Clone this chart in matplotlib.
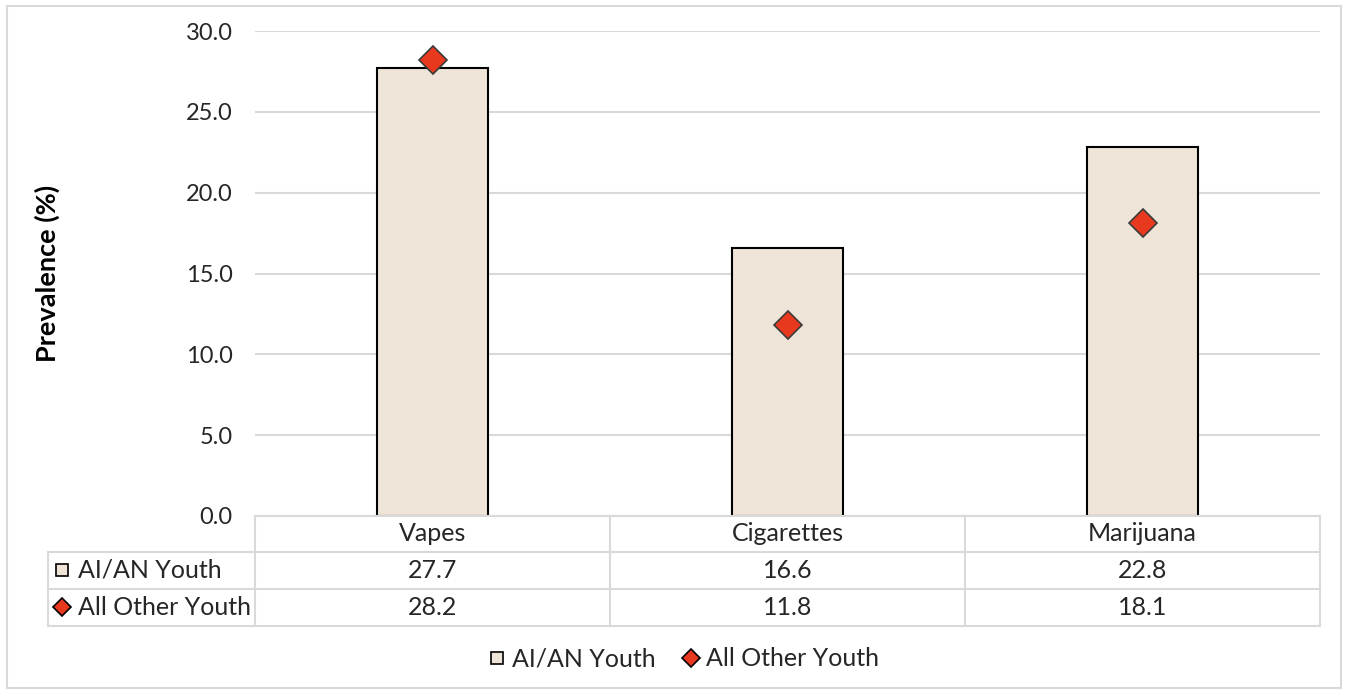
import matplotlib.pyplot as plt
from matplotlib.lines import Line2D
from matplotlib.patches import Rectangle
import matplotlib.transforms as mtransforms

categories = ['Vapes', 'Cigarettes', 'Marijuana']
aian_youth = [27.7, 16.6, 22.8]
other_youth = [28.2, 11.8, 18.1]
series_names = ['AI/AN Youth', 'All Other Youth']
yticks = [0, 5, 10, 15, 20, 25, 30]

plt.rcParams['font.family'] = ['Lato', 'DejaVu Sans']
bar_col = '#EEE5D8'
dia_col = '#E8391F'
grid_col = '#D9D9D9'
txt_col = '#262626'
fs = 18

fig = plt.figure(figsize=(13.48, 6.92), dpi=100)
fig.patches.append(Rectangle((7/1348, 4/692), 1334/1348, 682/692, transform=fig.transFigure,
                             fill=False, edgecolor=grid_col, lw=1.5))
ax = fig.add_axes([255/1348, 1-516/692, 1065/1348, 485/692])

x = range(len(categories))
ax.bar(x, aian_youth, width=0.31, color=bar_col, edgecolor='black', lw=1.5, zorder=2)
ax.plot(x, other_youth, ls='none', marker='D', ms=14, mfc=dia_col, mec='#3a3a3a', mew=1.2, zorder=3)

ax.set_xlim(-0.5, 2.5)
ax.set_ylim(0, 30)
ax.set_yticks(yticks)
ax.set_yticklabels([f'{v:.1f}' for v in yticks], fontsize=17, color=txt_col)
ax.tick_params(axis='y', length=0, pad=16)
ax.set_xticks([])
ax.grid(axis='y', color=grid_col, lw=1.5, zorder=0)
for s in ax.spines.values():
    s.set_visible(False)
ax.set_ylabel('Prevalence (%)', fontsize=19.5, fontweight='bold', color='black')
ax.yaxis.set_label_coords(-0.183, 0.5)

# data table under the axis
trans = mtransforms.blended_transform_factory(ax.transData, ax.transAxes)
rows_y = [0, -0.0742, -0.1505, -0.2268]
left = -0.1944
lkw = dict(color=grid_col, lw=1.5, clip_on=False)
ax.add_line(Line2D([0, 1], [0, 0], transform=ax.transAxes, **lkw))
for yy in rows_y[1:]:
    ax.add_line(Line2D([left, 1], [yy, yy], transform=ax.transAxes, **lkw))
ax.add_line(Line2D([left, left], [rows_y[1], rows_y[3]], transform=ax.transAxes, **lkw))
for xb in [-0.5, 0.5, 1.5, 2.5]:
    ax.add_line(Line2D([xb, xb], [0, rows_y[3]], transform=trans, **lkw))

tkw = dict(fontsize=fs, color=txt_col, va='center', clip_on=False)
for i, cat in enumerate(categories):
    ax.text(i, (rows_y[0] + rows_y[1]) / 2, cat, transform=trans, ha='center', **tkw)
    ax.text(i, (rows_y[1] + rows_y[2]) / 2, f'{aian_youth[i]:.1f}', transform=trans, ha='center', **tkw)
    ax.text(i, (rows_y[2] + rows_y[3]) / 2, f'{other_youth[i]:.1f}', transform=trans, ha='center', **tkw)

ax.plot([left + 0.0132], [(rows_y[1] + rows_y[2]) / 2], transform=ax.transAxes, marker='s', ms=9,
        mfc=bar_col, mec='black', mew=1.2, clip_on=False)
ax.plot([left + 0.0132], [(rows_y[2] + rows_y[3]) / 2], transform=ax.transAxes, marker='D', ms=9,
        mfc=dia_col, mec='black', mew=1.2, clip_on=False)
ax.text(left + 0.028, (rows_y[1] + rows_y[2]) / 2, series_names[0], transform=ax.transAxes, ha='left', **tkw)
ax.text(left + 0.028, (rows_y[2] + rows_y[3]) / 2, series_names[1], transform=ax.transAxes, ha='left', **tkw)

handles = [Line2D([], [], ls='none', marker='s', ms=9, mfc=bar_col, mec='black', mew=1.2),
           Line2D([], [], ls='none', marker='D', ms=9, mfc=dia_col, mec='black', mew=1.2)]
leg = fig.legend(handles, series_names, loc='center', bbox_to_anchor=(682/1348, 1-659/692), ncol=2,
                 frameon=False, fontsize=fs, handletextpad=0.1, columnspacing=0.9, handlelength=1.0)
for t in leg.get_texts():
    t.set_color(txt_col)

fig.savefig('out.png', dpi=100)
